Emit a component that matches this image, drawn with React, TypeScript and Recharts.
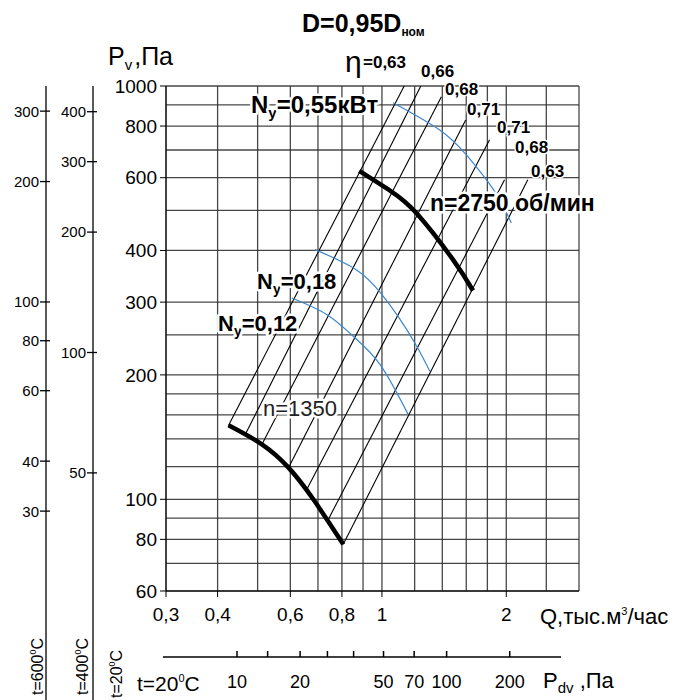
import React from 'react';
import { ComposedChart, Line, XAxis, YAxis, CartesianGrid } from 'recharts';

// axes
const qTicks = [0.3, 0.4, 0.6, 0.8, 1, 2];
const qGrid = [0.3, 0.4, 0.5, 0.6, 0.7, 0.8, 0.9, 1, 1.2, 1.4, 1.6, 1.8, 2, 2.5, 3];
const pTicks = [60, 80, 100, 200, 300, 400, 600, 800, 1000];
const pGrid = [60, 70, 80, 90, 100, 120, 140, 160, 180, 200, 250, 300, 400, 500, 600, 700, 800, 900, 1000];
const t600Ticks = [30, 40, 60, 80, 100, 200, 300];
const t400Ticks = [50, 100, 200, 300, 400];
const pdvTicks = [10, 14, 20, 27, 36, 50, 70, 100, 200];
const pdvLabels = [10, 20, 50, 70, 100, 200];

// n = 2750 rpm
const n2750Q = [0.881, 1.05, 1.213, 1.486, 1.661];
const n2750P = [623, 557, 492, 380, 320];
// n = 1350 rpm
const n1350Q = [0.425, 0.512, 0.594, 0.682, 0.806];
const n1350P = [151, 135.8, 119.3, 100, 77.8];

// efficiency lines (start on n=1350, end at top)
const etaLabels = ['0,63', '0,66', '0,68', '0,71', '0,71', '0,68', '0,63'];
const etaStartQ = [0.425, 0.467, 0.512, 0.594, 0.658, 0.742, 0.806];
const etaStartP = [150.9, 143.6, 135.8, 119.3, 105.7, 89.5, 77.8];
const etaEndQ = [1.132, 1.242, 1.393, 1.595, 1.822, 1.981, 2.255];
const etaEndP = [1000, 1000, 942, 828, 741, 593, 593];

// power lines (blue)
const ny055Q = [1.064, 1.38, 1.601, 1.874, 2.057];
const ny055P = [911, 783, 681, 556, 466];
const ny018Q = [0.689, 0.868, 0.989, 1.094, 1.213, 1.306];
const ny018P = [402, 359, 317, 277, 235, 204];
const ny012Q = [0.605, 0.735, 0.852, 0.989, 1.157];
const ny012P = [307, 280, 248, 212, 160.5];

const pts = (qs: number[], ps: number[]) => qs.map((q, i) => ({ q, p: ps[i] }));
const comma = (v: number) => String(v).replace('.', ',');
// invisible anchor so the Pdv axis gets its ticks
const pdvAnchor = pdvTicks.map((pdv) => ({ pdv, p: 60 }));

const FONT = '"Liberation Sans", Arial, sans-serif';
const BLUE = '#3a86cf';

const PdvTick = (props: any) => {
  const { x, y, payload } = props;
  const v = payload.value;
  return (
    <g>
      <line x1={x} x2={x} y1={y - 6} y2={y} stroke="#000" strokeWidth={1.5} />
      {pdvLabels.includes(v) && (
        <text x={x} y={y + 31} textAnchor="middle" fontSize={18} fontFamily={FONT} fill="#000">{v}</text>
      )}
    </g>
  );
};

const TempTick = (props: any) => {
  const { x, y, payload } = props;
  return (
    <g>
      <line x1={x - 6} x2={x + 4} y1={y} y2={y} stroke="#000" strokeWidth={1.3} />
      <text x={x - 7} y={y} dy="0.36em" textAnchor="end" fontSize={15} fontFamily={FONT} fill="#000">{payload.value}</text>
    </g>
  );
};

const halo = { stroke: '#fff', strokeWidth: 5, paintOrder: 'stroke' as const, strokeLinejoin: 'round' as const };

function Overlay() {
  return (
    <svg width={699} height={700} style={{ position: 'absolute', left: 0, top: 0, pointerEvents: 'none' }} fontFamily={FONT}>
      {/* axis lines that run outside the plot box */}
      <line x1={46} x2={46} y1={591} y2={700} stroke="#000" strokeWidth={1.3} />
      <line x1={93} x2={93} y1={591} y2={700} stroke="#000" strokeWidth={1.3} />
      <line x1={163} x2={561} y1={657} y2={657} stroke="#000" strokeWidth={1.3} />

      <text x={302} y={32} fontSize={25} fontWeight="bold">D=0,95D<tspan fontSize={12} dy={4}>ном</tspan></text>
      <text x={108} y={65} fontSize={25}>P<tspan fontSize={15} dy={5}>v</tspan><tspan dy={-5} dx={2}>,Па</tspan></text>
      <text x={540} y={624} fontSize={22}>Q,тыс.м<tspan fontSize={11} dy={-9}>3</tspan><tspan dy={9}>/час</tspan></text>
      <text x={543} y={688} fontSize={22}>P<tspan fontSize={15} dy={5}>dv</tspan><tspan dy={-5}> ,Па</tspan></text>
      <text x={137} y={691} fontSize={21}>t=20<tspan fontSize={11} dy={-9}>0</tspan><tspan dy={9}>C</tspan></text>

      <text transform="translate(43,695) rotate(-90)" fontSize={16}>t=600<tspan fontSize={9} dy={-7}>0</tspan><tspan dy={7}>C</tspan></text>
      <text transform="translate(88,695) rotate(-90)" fontSize={16}>t=400<tspan fontSize={9} dy={-7}>0</tspan><tspan dy={7}>C</tspan></text>
      <text transform="translate(122,698) rotate(-90)" fontSize={16}>t=20<tspan fontSize={9} dy={-7}>0</tspan><tspan dy={7}>C</tspan></text>

      <text x={345} y={72} fontSize={30}>η</text>
      <text x={363} y={68} fontSize={17} fontWeight="bold" {...halo} strokeWidth={3}>=0,63</text>
      {[[421, 77], [445, 95], [467, 115], [497, 133], [515, 153], [531, 177]].map(([x, y], i) => (
        <text key={i} x={x} y={y} fontSize={17} fontWeight="bold" {...halo} strokeWidth={3}>{etaLabels[i + 1]}</text>
      ))}

      <text x={251} y={113} fontSize={24} fontWeight="bold" {...halo}>N<tspan fontSize={15} dy={5}>y</tspan><tspan dy={-5}>=0,55кВт</tspan></text>
      <text x={257} y={289} fontSize={22} fontWeight="bold" {...halo}>N<tspan fontSize={14} dy={5}>y</tspan><tspan dy={-5}>=0,18</tspan></text>
      <text x={218} y={331} fontSize={22} fontWeight="bold" {...halo}>N<tspan fontSize={14} dy={5}>y</tspan><tspan dy={-5}>=0,12</tspan></text>
      <text x={430} y={211} fontSize={23} fontWeight="bold" {...halo}>n=2750 об/мин</text>
      <text x={263} y={416} fontSize={22} fill="#222" {...halo}>n=1350</text>
    </svg>
  );
}

export default function App() {
  const axisText = { fill: '#000', fontSize: 19, fontFamily: FONT };
  return (
    <div style={{ position: 'absolute', left: 0, top: 0, width: 699, height: 700, background: '#fff' }}>
      <ComposedChart width={699} height={700} margin={{ top: 86, right: 120, bottom: 0, left: 0 }}>
        <XAxis xAxisId="a_q" dataKey="q" type="number" scale="log" domain={[0.3, 3]} allowDataOverflow
          ticks={qTicks} interval={0} tickFormatter={comma} height={66} tickSize={6} tickMargin={11}
          stroke="#000" tick={axisText} />
        <XAxis xAxisId="b_pdv" dataKey="pdv" type="number" scale="log" domain={[4.585, 428]} allowDataOverflow
          ticks={pdvTicks} interval={0} height={43} tickSize={0} tickMargin={0} tickLine={false}
          axisLine={false} tick={<PdvTick />} />
        <YAxis yAxisId="a_p" dataKey="p" type="number" scale="log" domain={[60, 1000]} allowDataOverflow
          ticks={pTicks} interval={0} width={73} tickSize={6} tickMargin={3} stroke="#000" tick={axisText} />
        <YAxis yAxisId="b_t400" type="number" scale="log" domain={[25.33, 463.8]} allowDataOverflow
          ticks={t400Ticks} interval={0} width={47} tickSize={0} tickMargin={0} tickLine={false}
          axisLine={{ stroke: '#000', strokeWidth: 1.3 }} tick={<TempTick />} />
        <YAxis yAxisId="c_t600" type="number" scale="log" domain={[18.94, 346.7]} allowDataOverflow
          ticks={t600Ticks} interval={0} width={46} tickSize={0} tickMargin={0} tickLine={false}
          axisLine={{ stroke: '#000', strokeWidth: 1.3 }} tick={<TempTick />} />

        <CartesianGrid xAxisId="a_q" yAxisId="a_p" verticalValues={qGrid} horizontalValues={pGrid}
          stroke="#333" strokeWidth={1.3} strokeOpacity={0.9} />

        <Line xAxisId="b_pdv" yAxisId="a_p" data={pdvAnchor} dataKey="p" stroke="none" dot={false} activeDot={false}
          legendType="none" isAnimationActive={false} />

        {etaStartQ.map((q, i) => (
          <Line key={'eta' + i} xAxisId="a_q" yAxisId="a_p" data={[{ q, p: etaStartP[i] }, { q: etaEndQ[i], p: etaEndP[i] }]}
            dataKey="p" type="linear" stroke="#000" strokeWidth={1.1} dot={false} isAnimationActive={false} />
        ))}
        <Line xAxisId="a_q" yAxisId="a_p" data={pts(ny055Q, ny055P)} dataKey="p" type="natural" stroke={BLUE} strokeWidth={1.2} dot={false} isAnimationActive={false} />
        <Line xAxisId="a_q" yAxisId="a_p" data={pts(ny018Q, ny018P)} dataKey="p" type="natural" stroke={BLUE} strokeWidth={1.2} dot={false} isAnimationActive={false} />
        <Line xAxisId="a_q" yAxisId="a_p" data={pts(ny012Q, ny012P)} dataKey="p" type="natural" stroke={BLUE} strokeWidth={1.2} dot={false} isAnimationActive={false} />
        <Line xAxisId="a_q" yAxisId="a_p" data={pts(n2750Q, n2750P)} dataKey="p" type="natural" stroke="#000" strokeWidth={4.5} dot={false} isAnimationActive={false} />
        <Line xAxisId="a_q" yAxisId="a_p" data={pts(n1350Q, n1350P)} dataKey="p" type="natural" stroke="#000" strokeWidth={4.5} dot={false} isAnimationActive={false} />
      </ComposedChart>
      <Overlay />
    </div>
  );
}
